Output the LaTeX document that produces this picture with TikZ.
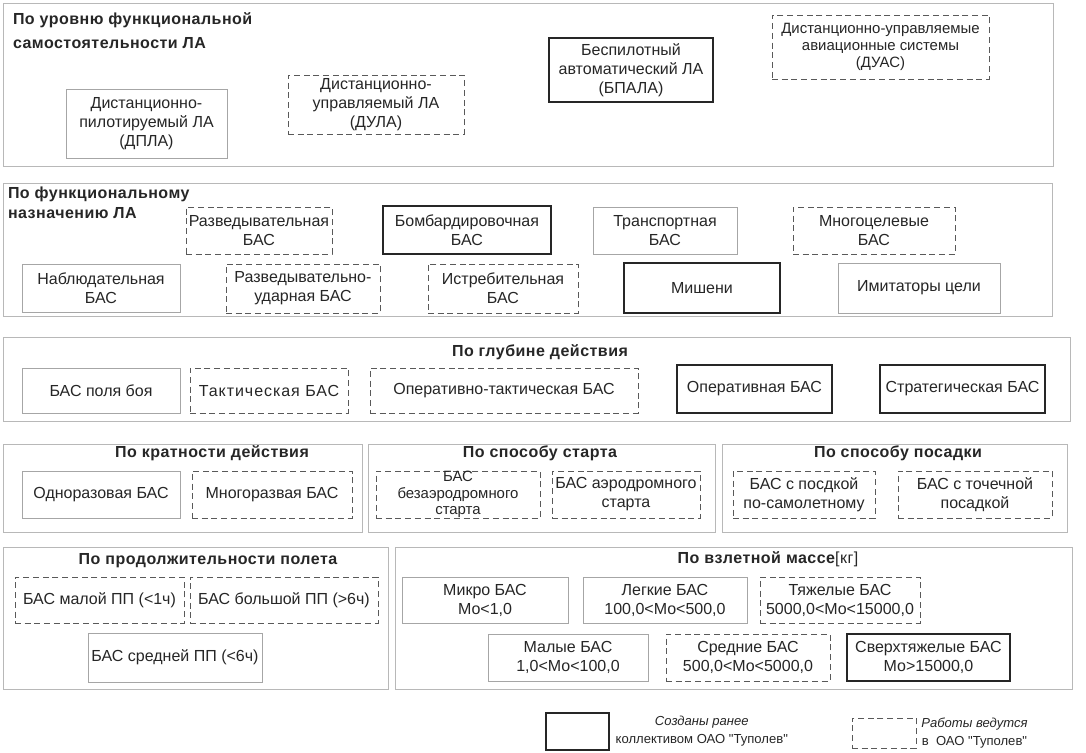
\documentclass[tikz,border=0pt]{standalone}
\usepackage{fontspec}
\setmainfont{Liberation Sans}
\definecolor{txt}{HTML}{262626}
\newcommand\mybox[7]{\node[#2,minimum width={(#5-#3)*0.75pt},minimum height={(#6-#4)*0.75pt}] (#1) at ({(#3+#5)/2},{(#4+#6)/2}) {#7};}
\begin{document}
\begin{tikzpicture}[x=0.75pt,y=-0.75pt,
  every node/.style={inner sep=0pt, outer sep=0pt, text=txt, font=\fontsize{12}{14.2}\selectfont, align=center},
  sec/.style={draw=black!28, line width=0.7pt},
  thinb/.style={draw=black!35, line width=0.7pt},
  dashb/.style={draw=black!65, line width=0.75pt, dash pattern=on 4.5pt off 2.8pt},
  thickb/.style={draw=black!85, line width=1.9pt},
  head/.style={font=\bfseries\fontsize{12}{18}\selectfont\addfontfeature{LetterSpace=3}},
  legtxt/.style={font=\fontsize{9.8}{13.5}\selectfont}]
\useasboundingbox[fill=white] (0,0) rectangle (1086,753);

% ---------- sections ----------
\mybox{s1}{sec}{3}{3}{1053}{166}{}
\mybox{s2}{sec}{3}{183}{1052}{316}{}
\mybox{s3}{sec}{3}{337}{1070}{421}{}
\mybox{s4a}{sec}{3}{444}{362}{532}{}
\mybox{s4b}{sec}{368}{444}{715}{532}{}
\mybox{s4c}{sec}{722}{444}{1067}{532}{}
\mybox{s5a}{sec}{3}{547}{388}{689}{}
\mybox{s5b}{sec}{395}{547}{1072}{689}{}

% ---------- headings ----------
\node[head, anchor=north west, align=left] (h1) at (13,13) {По уровню функциональной\\самостоятельности ЛА};
\node[head, anchor=north west, align=left, font=\bfseries\fontsize{12}{15}\selectfont\addfontfeature{LetterSpace=3}] (h2) at (8,187) {По функциональному\\назначению ЛА};
\node[head, anchor=base] (h3) at (540,356) {По глубине действия};
\node[head, anchor=base] (h4a) at (212,457) {По кратности действия};
\node[head, anchor=base] (h4b) at (540,457) {По способу старта};
\node[head, anchor=base] (h4c) at (898,457) {По способу посадки};
\node[head, anchor=base] (h5a) at (208,564) {По продолжительности полета};
\node[head, anchor=base] (h5b) at (768,563) {По взлетной массе{\mdseries[кг]}};

% ---------- section 1 ----------
\mybox{dpla}{thinb}{66}{89}{227}{158}{Дистанционно-\\пилотируемый ЛА\\(ДПЛА)}
\mybox{dula}{dashb}{288}{75}{464}{134}{Дистанционно-\\управляемый ЛА\\(ДУЛА)}
\mybox{bpala}{thickb}{549}{38}{713}{102}{Беспилотный\\автоматический ЛА\\(БПАЛА)}
\mybox{duas}{dashb,font=\fontsize{11.2}{13}\selectfont}{772}{15}{989}{79}{Дистанционно-управляемые\\авиационные системы\\(ДУАС)}

% ---------- section 2 ----------
\mybox{razv}{dashb}{186}{207}{332}{254}{Разведывательная\\БАС}
\mybox{bomb}{thickb}{383}{206}{551}{254}{Бомбардировочная\\БАС}
\mybox{trans}{thinb}{593}{207}{737}{254}{Транспортная\\БАС}
\mybox{mnog}{dashb}{793}{207}{955}{254}{Многоцелевые\\БАС}
\mybox{nabl}{thinb}{22}{264}{180}{312}{Наблюдательная\\БАС}
\mybox{razvud}{dashb}{226}{264}{380}{313}{Разведывательно-\\ударная БАС}
\mybox{istr}{dashb}{428}{264}{578}{313}{Истребительная\\БАС}
\mybox{mish}{thickb}{624}{263}{780}{313}{Мишени}
\mybox{imit}{thinb}{838}{263}{1000}{313}{Имитаторы цели}

% ---------- section 3 ----------
\mybox{pole}{thinb}{22}{368}{180}{413}{БАС поля боя}
\mybox{takt}{dashb}{190}{368}{348}{413}{\addfontfeature{LetterSpace=6}Тактическая БАС}
\mybox{opt}{dashb}{370}{368}{638}{413}{Оперативно-тактическая БАС}
\mybox{oper}{thickb}{677}{365}{832}{413}{Оперативная БАС}
\mybox{strat}{thickb}{880}{365}{1045}{413}{Стратегическая БАС}

% ---------- section 4 ----------
\mybox{odn}{thinb}{22}{471}{180}{518}{Одноразовая БАС}
\mybox{mnr}{dashb}{192}{471}{352}{518}{Многоразвая БАС}
\mybox{bezaer}{dashb,font=\fontsize{11.2}{12.3}\selectfont}{376}{471}{540}{518}{БАС\\безаэродромного\\старта}
\mybox{aer}{dashb}{552}{471}{700}{518}{БАС аэродромного\\старта}
\mybox{samol}{dashb}{733}{471}{875}{518}{БАС с посдкой\\по-самолетному}
\mybox{toch}{dashb}{898}{471}{1052}{518}{БАС с точечной\\посадкой}

% ---------- section 5 ----------
\mybox{malpp}{dashb}{15}{577}{184}{623}{БАС малой ПП (<1ч)}
\mybox{bolpp}{dashb}{190}{577}{378}{623}{БАС большой ПП (>6ч)}
\mybox{srpp}{thinb}{88}{633}{262}{682}{БАС средней ПП (<6ч)}
\mybox{mikro}{thinb}{402}{577}{568}{623}{Микро БАС\\Мо<1,0}
\mybox{legk}{thinb}{583}{577}{747}{623}{Легкие БАС\\100,0<Мо<500,0}
\mybox{tyazh}{dashb}{760}{577}{920}{623}{Тяжелые БАС\\5000,0<Мо<15000,0}
\mybox{maly}{thinb}{488}{634}{648}{681}{Малые БАС\\1,0<Мо<100,0}
\mybox{sred}{dashb}{666}{634}{830}{681}{Средние БАС\\500,0<Мо<5000,0}
\mybox{sverh}{thickb}{847}{634}{1010}{681}{Сверхтяжелые БАС\\Мо>15000,0}

% ---------- legend ----------
\mybox{lg1}{thickb}{546}{713}{609}{750}{}
\node[legtxt, anchor=west] (lt1) at ([xshift=5pt]lg1.east) {{\itshape Созданы ранее}\\коллективом ОАО \textquotedbl Туполев\textquotedbl};
\mybox{lg2}{dashb}{852}{718}{916}{748}{}
\node[legtxt, anchor=west] (lt2) at ([xshift=4pt]lg2.east) {{\itshape Работы ведутся}\\в\ \ ОАО \textquotedbl Туполев\textquotedbl};
\end{tikzpicture}
\end{document}
